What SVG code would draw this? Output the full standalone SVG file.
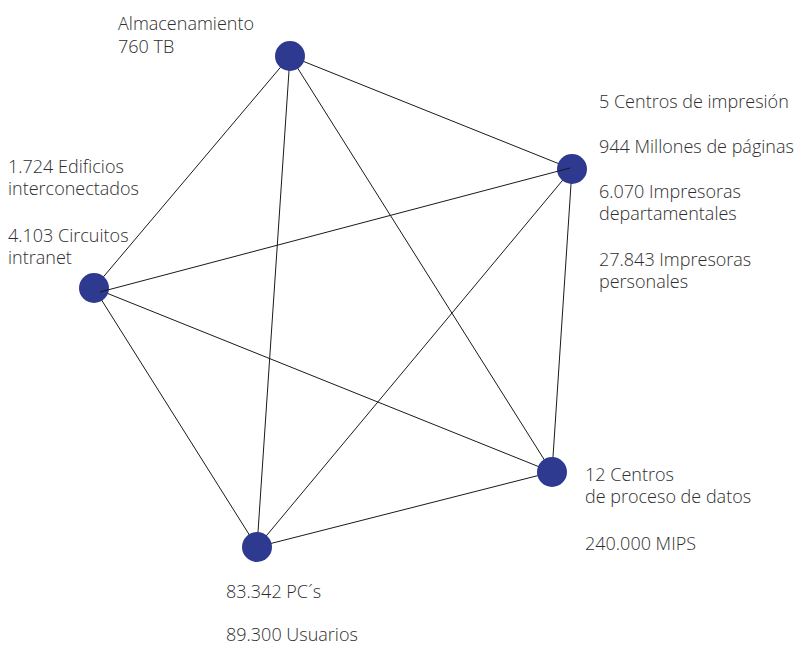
<svg xmlns="http://www.w3.org/2000/svg" width="797" height="646" viewBox="0 0 797 646">
<style>
.t{font-family:"Open Sans","Noto Sans","Liberation Sans",sans-serif;font-size:18px;font-weight:300;fill:#2e2e2e}
.n{fill:#2e3990}
.c line{stroke:#1a1a1a;stroke-width:1}
</style>
<rect width="797" height="646" fill="#fff"/>
<g id="connectors" class="c">
<line x1="290" y1="56" x2="572" y2="169"/>
<line x1="290" y1="56" x2="94" y2="288"/>
<line x1="290" y1="56" x2="552" y2="472"/>
<line x1="290" y1="56" x2="257" y2="547"/>
<line x1="572" y1="169" x2="552" y2="472"/>
<line x1="572" y1="169" x2="257" y2="547"/>
<line x1="94" y1="288" x2="552" y2="472"/>
<line x1="94" y1="288" x2="257" y2="547"/>
<line x1="552" y1="472" x2="257" y2="547"/>
</g>
<g id="almacenamiento">
<circle class="n" cx="290" cy="56" r="15"/>
<text class="t" x="118" y="30">Almacenamiento</text>
<text class="t" x="118" y="53">760 TB</text>
</g>
<g id="impresion">
<circle class="n" cx="572" cy="169" r="15"/>
<text class="t" x="599" y="108">5 Centros de impresión</text>
<text class="t" x="599" y="153">944 Millones de páginas</text>
<text class="t" x="599" y="198">6.070 Impresoras</text>
<text class="t" x="599" y="220">departamentales</text>
<text class="t" x="599" y="266">27.843 Impresoras</text>
<text class="t" x="599" y="288">personales</text>
</g>
<g id="edificios">
<circle class="n" cx="94" cy="288" r="15"/>
<text class="t" x="8" y="173">1.724 Edificios</text>
<text class="t" x="8" y="195">interconectados</text>
<text class="t" x="8" y="242">4.103 Circuitos</text>
<text class="t" x="8" y="264">intranet</text>
</g>
<g id="centros-datos">
<circle class="n" cx="552" cy="472" r="15"/>
<text class="t" x="585" y="481">12 Centros</text>
<text class="t" x="585" y="503">de proceso de datos</text>
<text class="t" x="585" y="550">240.000 MIPS</text>
</g>
<g id="pcs">
<circle class="n" cx="257" cy="547" r="15"/>
<text class="t" x="226" y="598">83.342 PC´s</text>
<text class="t" x="226" y="641">89.300 Usuarios</text>
</g>
<line x1="100" y1="292" x2="570" y2="168" stroke="#1a1a1a" stroke-width="1"/>
</svg>
